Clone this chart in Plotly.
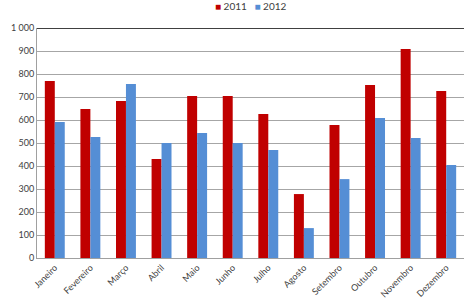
import plotly.graph_objects as go

months = ["Janeiro", "Fevereiro", "Março", "Abril", "Maio", "Junho", "Julho",
          "Agosto", "Setembro", "Outubro", "Novembro", "Dezembro"]
v2011 = [770, 648, 683, 430, 704, 704, 626, 278, 578, 752, 909, 726]
v2012 = [591, 526, 757, 500, 543, 500, 470, 130, 343, 609, 522, 404]
yticks = [0, 100, 200, 300, 400, 500, 600, 700, 800, 900, 1000]
yticklabels = ["0", "100", "200", "300", "400", "500", "600", "700", "800", "900", "1 000"]
c2011 = "#C00000"
c2012 = "#558ED5"

fig = go.Figure()
fig.add_bar(name="2011", x=months, y=v2011, marker_color=c2011, marker_line_width=0)
fig.add_bar(name="2012", x=months, y=v2012, marker_color=c2012, marker_line_width=0)

fig.update_layout(
    width=468, height=300,
    margin=dict(l=37, r=4, t=28, b=42),
    paper_bgcolor="white", plot_bgcolor="white",
    barmode="group", bargap=0.44, bargroupgap=0,
    font=dict(family="Lato, Liberation Sans, Arial", size=10, color="#404040"),
    showlegend=False,
)
fig.add_annotation(
    xref="paper", yref="paper", x=0.5, y=1.0, yshift=22, xanchor="center", yanchor="middle",
    showarrow=False, font=dict(size=10, color="#404040"),
    text=f"<span style='color:{c2011}'>■</span> 2011   <span style='color:{c2012}'>■</span> 2012",
)
fig.update_xaxes(tickangle=-45, showline=True, linecolor="#A0A0A0", linewidth=1,
                 ticks="", tickfont=dict(size=9), automargin=False)
fig.update_yaxes(range=[0, 1000], tickvals=yticks, ticktext=yticklabels,
                 showgrid=True, gridcolor="#A6A6A6", gridwidth=1,
                 showline=True, linecolor="#A0A0A0", linewidth=1,
                 zeroline=False, tickfont=dict(size=9), ticks="", automargin=False)
fig.add_shape(type="line", xref="paper", yref="y", x0=0, x1=1, y0=1000, y1=1000,
              line=dict(color="black", width=1.5))

fig.write_html("out.html")
